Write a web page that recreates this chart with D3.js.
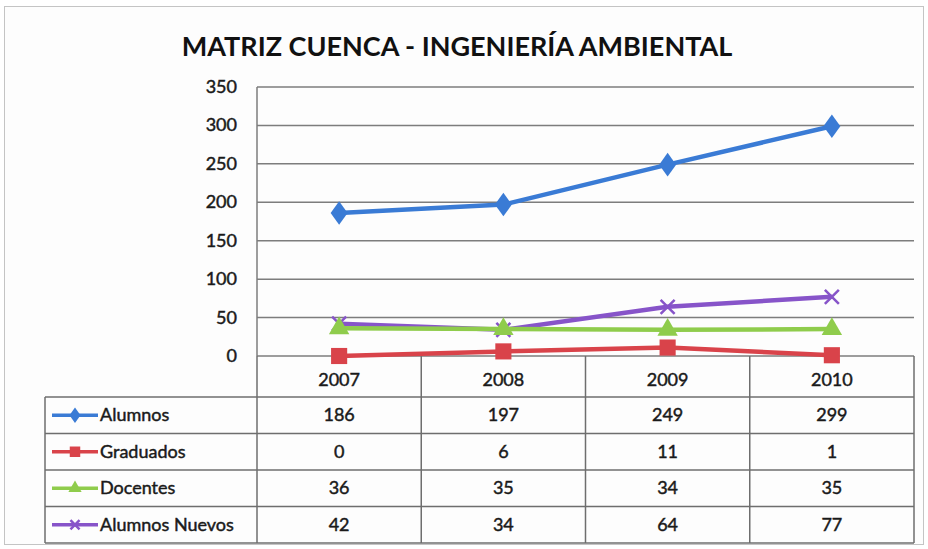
<!DOCTYPE html>
<html>
<head>
<meta charset="utf-8">
<script src="https://cdn.jsdelivr.net/npm/d3@7"></script>
<style>
  body { margin: 0; background: #fff; }
  svg text { font-family: Lato, "Open Sans", sans-serif; fill: #1a1a1a; }
  .tick-label, .cell { font-size: 18px; stroke: #1a1a1a; stroke-width: 0.45px; }
  .chart-title { font-size: 27px; font-weight: bold; fill: #111; }
</style>
</head>
<body>
<svg id="chart"></svg>
<script>
// data
const years = ["2007", "2008", "2009", "2010"];
const seriesNames = ["Alumnos", "Graduados", "Docentes", "Alumnos Nuevos"];
const alumnos = [186, 197, 249, 299];
const graduados = [0, 6, 11, 1];
const docentes = [36, 35, 34, 35];
const nuevos = [42, 34, 64, 77];
const yTicks = [0, 50, 100, 150, 200, 250, 300, 350];

const colors = ["#3a7bd5", "#d9434a", "#8fcc4c", "#8754c9"];
const markers = ["diamond", "square", "triangle", "x"];
const series = seriesNames.map((name, i) => ({
    name: name,
    values: [alumnos, graduados, docentes, nuevos][i],
    color: colors[i],
    marker: markers[i]
}));

const W = 928, H = 549;
const margin = {left: 257, right: 14, top: 87};
const plotBottom = 356;
const tableLeft = 45;
const headerH = 41, rowH = 36.5;

const svg = d3.select("#chart").attr("width", W).attr("height", H);

// outer frame
svg.append("rect")
    .attr("x", 4.5).attr("y", 6.5)
    .attr("width", W - 9).attr("height", H - 11)
    .attr("fill", "#fdfdfd")
    .attr("stroke", "#c4c4c4");

svg.append("text")
    .attr("class", "chart-title")
    .attr("x", 457).attr("y", 56)
    .attr("text-anchor", "middle")
    .text("MATRIZ CUENCA - INGENIERÍA AMBIENTAL");

const x = d3.scaleBand()
    .domain(years)
    .range([margin.left, W - margin.right]);

const y = d3.scaleLinear()
    .domain([0, 350])
    .range([plotBottom, margin.top]);

// gridlines
svg.append("g")
    .selectAll("line")
    .data(yTicks)
    .join("line")
    .attr("x1", margin.left).attr("x2", W - margin.right)
    .attr("y1", d => y(d)).attr("y2", d => y(d))
    .attr("stroke", "#7d7d7d")
    .attr("stroke-width", 1.5);

// y axis line
svg.append("line")
    .attr("x1", margin.left).attr("x2", margin.left)
    .attr("y1", margin.top).attr("y2", plotBottom)
    .attr("stroke", "#7d7d7d").attr("stroke-width", 1.5);

// y tick labels
svg.append("g")
    .selectAll("text")
    .data(yTicks)
    .join("text")
    .attr("class", "tick-label")
    .attr("x", 237)
    .attr("y", d => y(d) + 6)
    .attr("text-anchor", "end")
    .text(d => d);

// table
const tableTop = plotBottom + headerH;
const tableBottom = tableTop + rowH * series.length;
const tbl = svg.append("g").attr("stroke", "#6e6e6e").attr("stroke-width", 1.5);

// vertical lines between years
x.domain().concat(["end"]).forEach((yr, i) => {
    const xx = i < years.length ? x(yr) : x.range()[1];
    tbl.append("line")
        .attr("x1", xx).attr("x2", xx)
        .attr("y1", plotBottom).attr("y2", tableBottom);
});
tbl.append("line")
    .attr("x1", tableLeft).attr("x2", tableLeft)
    .attr("y1", tableTop).attr("y2", tableBottom);
d3.range(series.length + 1).forEach(i => {
    const yy = tableTop + i * rowH;
    tbl.append("line")
        .attr("x1", tableLeft).attr("x2", x.range()[1])
        .attr("y1", yy).attr("y2", yy);
});

// year header
svg.append("g")
    .selectAll("text")
    .data(years)
    .join("text")
    .attr("class", "cell")
    .attr("x", d => x(d) + x.bandwidth() / 2)
    .attr("y", plotBottom + 30)
    .attr("text-anchor", "middle")
    .text(d => d);

function drawMarker(g, type, color, size) {
    if (type === "diamond") {
        g.append("path").attr("d", d3.symbol(d3.symbolDiamond, size * size * 1.6)())
            .attr("fill", color).attr("transform", "scale(1.25,1)");
    } else if (type === "square") {
        g.append("path").attr("d", d3.symbol(d3.symbolSquare, size * size * 2.6)())
            .attr("fill", color);
    } else if (type === "triangle") {
        g.append("path").attr("d", d3.symbol(d3.symbolTriangle, size * size * 1.8)())
            .attr("fill", color);
    } else {
        const s = size * 0.7;
        g.append("path")
            .attr("d", `M${-s},${-s}L${s},${s}M${-s},${s}L${s},${-s}`)
            .attr("stroke", color).attr("stroke-width", 2.5).attr("fill", "none");
    }
}

// rows
series.forEach((s, i) => {
    const cy = tableTop + i * rowH + rowH / 2;
    const key = svg.append("g");
    key.append("line")
        .attr("x1", 52).attr("x2", 98)
        .attr("y1", cy).attr("y2", cy)
        .attr("stroke", s.color).attr("stroke-width", 3.5);
    drawMarker(key.append("g").attr("transform", `translate(75,${cy})`), s.marker, s.color, 6.5);
    svg.append("text")
        .attr("class", "cell")
        .attr("x", 100).attr("y", cy + 6)
        .text(s.name);
    svg.append("g")
        .selectAll("text")
        .data(s.values)
        .join("text")
        .attr("class", "cell")
        .attr("x", (d, j) => x(years[j]) + x.bandwidth() / 2)
        .attr("y", cy + 6)
        .attr("text-anchor", "middle")
        .text(d => d);
});

// lines, drawn bottom-up so Alumnos sits on top
const line = d3.line()
    .x((d, j) => x(years[j]) + x.bandwidth() / 2)
    .y(d => y(d));

series.slice().reverse().forEach(s => {
    svg.append("path")
        .datum(s.values)
        .attr("d", line)
        .attr("fill", "none")
        .attr("stroke", s.color)
        .attr("stroke-width", 4.5)
        .attr("stroke-linejoin", "round");
    s.values.forEach((v, j) => {
        const g = svg.append("g")
            .attr("transform", `translate(${x(years[j]) + x.bandwidth() / 2},${y(v)})`);
        drawMarker(g, s.marker, s.color, 10);
    });
});
</script>
</body>
</html>
